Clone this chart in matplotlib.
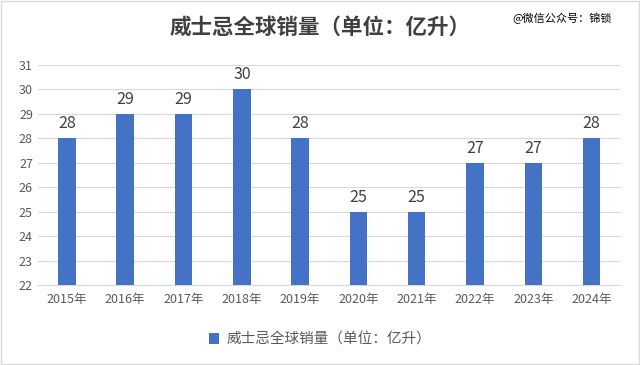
import matplotlib
matplotlib.use("Agg")
import matplotlib.pyplot as plt
from matplotlib.patches import Rectangle

plt.rcParams['font.family'] = ['Noto Sans CJK SC', 'DejaVu Sans']

years = ["2015年", "2016年", "2017年", "2018年", "2019年",
         "2020年", "2021年", "2022年", "2023年", "2024年"]
sales = [28, 29, 29, 30, 28, 25, 25, 27, 27, 28]
yticks = list(range(22, 32))

fig = plt.figure(figsize=(6.4, 3.65), dpi=100)
ax = fig.add_axes([0.059, 0.219, 0.911, 0.603])

x = range(len(years))
bars = ax.bar(x, [v - 22 for v in sales], bottom=22, width=0.3,
              color="#4472C4", label="威士忌全球销量（单位：亿升）", zorder=3)
for xi, v in zip(x, sales):
    ax.text(xi, v + 0.25, str(v), ha="center", va="bottom",
            fontsize=11.5, color="#404040")

ax.set_xlim(-0.5, len(years) - 0.5)
ax.set_ylim(22, 31)
ax.set_yticks(yticks)
ax.set_xticks(list(x))
ax.set_xticklabels(years)
ax.tick_params(axis="both", length=0, labelsize=9, colors="#595959")
ax.tick_params(axis="x", pad=6)
ax.grid(axis="y", color="#D9D9D9", linewidth=0.8, zorder=0)
for s in ["top", "right", "left"]:
    ax.spines[s].set_visible(False)
ax.spines["bottom"].set_color("#D9D9D9")

fig.text(0.5, 0.925, "威士忌全球销量（单位：亿升）", ha="center", va="center",
         fontsize=15.5, color="#404040", fontweight="bold")
fig.text(0.80, 0.95, "@微信公众号：锦锁", ha="left", va="center",
         fontsize=8, color="#000000")

leg = fig.legend(loc="center", bbox_to_anchor=(0.5, 0.07), frameon=False,
                 fontsize=10.5, handlelength=0.7, handleheight=0.7, handletextpad=0.5)
for t in leg.get_texts():
    t.set_color("#595959")

fig.patches.append(Rectangle((0.002, 0.003), 0.996, 0.994, transform=fig.transFigure,
                             fill=False, edgecolor="#D9D9D9", linewidth=1))

fig.savefig("out.png", dpi=100)
